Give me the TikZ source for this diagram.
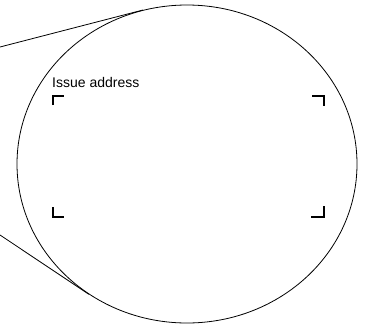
\documentclass[tikz,border=0pt]{standalone}
\usepackage{fontspec}
\setmainfont{Liberation Sans}
\usepackage{tikz}
\usetikzlibrary{shapes.geometric}

\begin{document}
\begin{tikzpicture}[x=1pt, y=-1pt,
			lens/.style   = {draw, ellipse, black, line width=0.8pt, inner sep=0pt, minimum width=340pt, minimum height=318pt},
			corner/.style = {draw, black, line width=2pt},
			label_1/.style = {anchor=base west, inner sep=0pt, font=\fontsize{14}{16}\selectfont}]
			\useasboundingbox (0,0) rectangle (366,324);

			%% MAGNIFIED REGION
			\node[lens] (zoom) at (187,164) {};
			\coordinate (src_top) at (0,47);
			\coordinate (src_bot) at (0,235);
			\draw[black, line width=0.8pt] (src_top) -- (zoom.106);
			\draw[black, line width=0.8pt] (src_bot) -- (zoom.233);

			% LABEL
			\node[label_1] (issue) at (52,87) {Issue address};

			% CORNER MARKS
			\draw[corner] (53,105) -- (53,96) -- (64,96);
			\draw[corner] (312,96) -- (324,96) -- (324,106);
			\draw[corner] (53,207) -- (53,217) -- (64,217);
			\draw[corner] (311,217) -- (324,217) -- (324,206);
\end{tikzpicture}
\end{document}
